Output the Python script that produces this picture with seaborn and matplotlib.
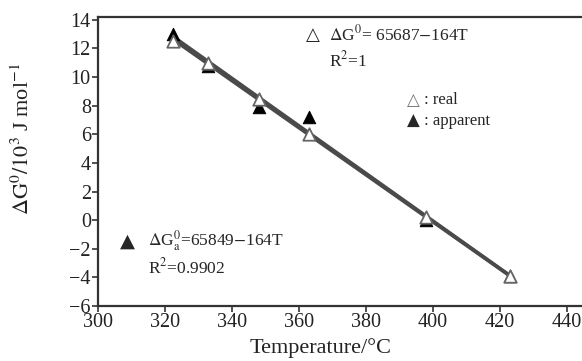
import numpy as np
import pandas as pd
import seaborn as sns
import matplotlib.pyplot as plt

# Data
temps = [322.5, 333.0, 348.0, 363.0, 398.0, 423.0]
dg_real = [12.5, 11.0, 8.5, 6.0, 0.2, -3.9]
dg_apparent = [13.0, 10.8, 7.9, 7.2, 0.0, -3.9]
x_ticks = [300, 320, 340, 360, 380, 400, 420, 440]
y_ticks = [-6, -4, -2, 0, 2, 4, 6, 8, 10, 12, 14]

df = pd.DataFrame({"T": temps, "real": dg_real, "apparent": dg_apparent})

sns.set_style("ticks")
plt.rcParams['font.family'] = ['Liberation Serif', 'DejaVu Sans']
plt.rcParams['mathtext.fontset'] = 'stix'

fig = plt.figure(figsize=(5.82, 3.61), dpi=100)
ax = fig.add_axes([0.168, 0.152, 0.832, 0.801])

# fitted lines
line_kw = dict(color='#4a4a4a', lw=2.6)
sns.regplot(data=df, x="T", y="apparent", scatter=False, ci=None, ax=ax, line_kws=line_kw)
sns.regplot(data=df, x="T", y="real", scatter=False, ci=None, ax=ax, line_kws=line_kw)

# markers
sns.scatterplot(data=df, x="T", y="apparent", marker='^', s=80, color='black',
                edgecolor='black', ax=ax, zorder=3)
sns.scatterplot(data=df, x="T", y="real", marker='^', s=80, facecolor='white',
                edgecolor='#666666', linewidth=1.3, ax=ax, zorder=4)

ax.set_xlim(300, 444.5)
ax.set_ylim(-6, 14.2)
ax.set_xticks(x_ticks)
ax.set_yticks(y_ticks)
ax.set_yticklabels([str(v).replace('-', '\u2212') for v in y_ticks])
ax.tick_params(labelsize=14.5, length=4, width=1.2, color='#333333', pad=1,
               labelcolor='#222222')

for s in ['left', 'bottom', 'top']:
    ax.spines[s].set_color('#333333')
    ax.spines[s].set_linewidth(1.6)
ax.spines['right'].set_visible(False)

ax.set_xlabel('Temperature/\u00b0C', fontsize=16, color='#222222')
ax.xaxis.set_label_coords(0.461, -0.112)
ax.set_ylabel(r'$\Delta\mathrm{G}^0/10^3$ J mol$^{-1}$', fontsize=16, color='#222222')
ax.yaxis.set_label_coords(-0.132, 0.578)

# annotations
sym = ['DejaVu Sans']
ax.text(0.444, 0.938, '\u25b3', transform=ax.transAxes, fontsize=13, ha='center', va='center', family=sym)
ax.text(0.477, 0.938, r'$\Delta$G$^0$= 65687$-$164T', transform=ax.transAxes,
        fontsize=12.5, va='center')
ax.text(0.477, 0.851, r'R$^2$=1', transform=ax.transAxes, fontsize=12.5, va='center')

ax.text(0.651, 0.713, '\u25b3', transform=ax.transAxes, fontsize=12, ha='center', va='center',
        color='#777777', family=sym)
ax.text(0.673, 0.713, ': real', transform=ax.transAxes, fontsize=12, va='center')
ax.text(0.651, 0.640, '\u25b2', transform=ax.transAxes, fontsize=12, ha='center', va='center', family=sym)
ax.text(0.673, 0.640, ': apparent', transform=ax.transAxes, fontsize=12, va='center')

ax.text(0.062, 0.225, '\u25b2', transform=ax.transAxes, fontsize=14, ha='center', va='center', family=sym)
ax.text(0.103, 0.225, r'$\Delta$G$_\mathrm{a}^0$=65849$-$164T', transform=ax.transAxes,
        fontsize=12.5, va='center')
ax.text(0.103, 0.135, r'R$^2$=0.9902', transform=ax.transAxes, fontsize=12.5, va='center')

fig.savefig('out.png', dpi=100)
